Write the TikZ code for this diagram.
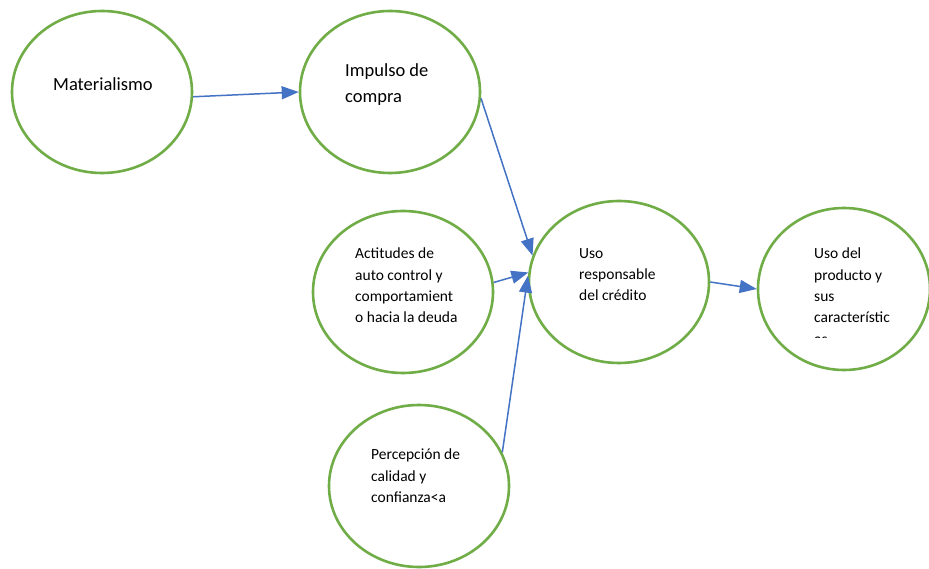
\documentclass[tikz,border=0pt]{standalone}
\usepackage{fontspec}
\setmainfont{Carlito}
\usetikzlibrary{arrows.meta,shapes.geometric}
\definecolor{egreen}{HTML}{70AD47}
\definecolor{ablue}{HTML}{4472C4}
\begin{document}
\begin{tikzpicture}[x=1pt,y=-1pt,
  ell/.style={ellipse, draw=egreen, line width=2.6pt, inner sep=0pt, minimum width=180pt, minimum height=162pt},
  big/.style={anchor=north west, inner sep=0pt, align=left, font=\fontsize{18.5}{26}\selectfont},
  small/.style={anchor=north west, inner sep=0pt, align=left, font=\fontsize{15.5}{21.3}\selectfont},
  arr/.style={draw=ablue, line width=1.5pt, -{Triangle[length=17pt,width=13pt]}}]
\useasboundingbox[fill=white] (0,0) rectangle (929,569);

\node[ell] (mat) at (102,92) {};
\node[ell] (imp) at (390,92) {};
\node[ell] (act) at (403,292) {};
\node[ell] (resp) at (619,282) {};
\node[ell, minimum width=172pt] (prod) at (844,289) {};
\node[ell] (perc) at (419,486) {};

\node[big] (tmat) at (53,77) {Materialismo};
\node[big] (timp) at (345,63) {Impulso de\\compra};
\node[small] (tact) at (355,248) {Actitudes de\\auto control y\\comportamient\\o hacia la deuda};
\node[small] (tresp) at (579,248) {Uso\\responsable\\del crédito};
\begin{scope}
\clip (750,200) rectangle (929,337);
\node[small] (tprod) at (814,248) {Uso del\\producto y\\sus\\característic\\as};
\end{scope}
\node[small] (tperc) at (371,449) {Percepción de\\calidad y\\confianza<a};

\draw[arr] (mat.-3) -- (imp.180);
\draw[arr] (imp.-4) -- (resp.163);
\draw[arr] (act.6) -- (resp.174);
\draw[arr] (perc.22) -- (resp.176);
\draw[arr] (resp.east) -- (prod.west);
\end{tikzpicture}
\end{document}
